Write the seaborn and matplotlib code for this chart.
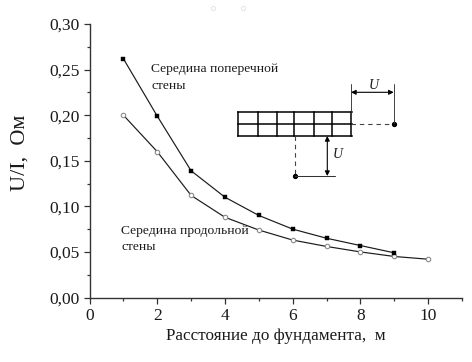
import matplotlib
matplotlib.use("Agg")
import matplotlib.pyplot as plt
import seaborn as sns
import pandas as pd

distance = [1, 2, 3, 4, 5, 6, 7, 8, 9, 10]
transverse = [0.262, 0.199, 0.139, 0.110, 0.090, 0.075, 0.065, 0.057, 0.049]
longitudinal = [0.200, 0.160, 0.112, 0.088, 0.074, 0.063, 0.056, 0.050, 0.045, 0.042]
x_ticks = [0, 2, 4, 6, 8, 10]
y_ticks = [0.00, 0.05, 0.10, 0.15, 0.20, 0.25, 0.30]
y_labels = ["0,00", "0,05", "0,10", "0,15", "0,20", "0,25", "0,30"]

sns.set_theme(style="ticks")
plt.rcParams["font.family"] = ["Liberation Serif", "DejaVu Serif"]

W, H = 472, 362
INK = "#1a1a1a"
fig = plt.figure(figsize=(W / 100, H / 100), dpi=100)
ax = fig.add_axes([89.5 / W, 1 - 297.5 / H, (462 - 89.5) / W, (297.5 - 24) / H])

df_t = pd.DataFrame({"x": distance[:len(transverse)], "y": transverse})
df_l = pd.DataFrame({"x": distance, "y": longitudinal})
sns.lineplot(data=df_l, x="x", y="y", ax=ax, color=INK, lw=0.85, marker="o", ms=3.2,
             mfc="white", mec="#8a8a8a", mew=0.8, errorbar=None)
sns.lineplot(data=df_t, x="x", y="y", ax=ax, color=INK, lw=0.85, marker="s", ms=2.3,
             mfc="black", mec="black", mew=0.3, errorbar=None)

ax.set_xlim(0, 11)
ax.set_ylim(0, 0.30)
ax.set_xticks(x_ticks)
ax.set_yticks(y_ticks)
ax.set_yticklabels(y_labels)
ax.set_xticks([1, 3, 5, 7, 9, 11], minor=True)
ax.set_yticks([0.025, 0.075, 0.125, 0.175, 0.225, 0.275], minor=True)
ax.tick_params(which="major", length=4.3, width=0.9, color="#333333", labelsize=12.5, labelcolor=INK, pad=2.5)
ax.tick_params(axis="x", which="major", pad=3.2)
ax.tick_params(which="minor", length=2.3, width=0.9, color="#333333")
sns.despine(ax=ax)
for s in ["left", "bottom"]:
    ax.spines[s].set_linewidth(1.0)
    ax.spines[s].set_color("#333333")
ax.set_xlabel("")
ax.set_ylabel("")

# overlay in pixel coordinates for the text and the sketch
ov = fig.add_axes([0, 0, 1, 1])
ov.set_xlim(0, W)
ov.set_ylim(H, 0)
ov.axis("off")

ov.text(276, 335.5, "Расстояние до фундамента,  м", fontsize=12.3, color=INK, ha="center", va="center")
ov.text(20, 152.5, "U/I,  Ом", fontsize=16, color=INK, rotation=90, ha="center", va="center")
ov.text(151, 69, "Середина поперечной", fontsize=9.7, color=INK, va="center")
ov.text(151, 86, "стены", fontsize=9.7, color=INK, va="center")
ov.text(121, 231, "Середина продольной", fontsize=9.7, color=INK, va="center")
ov.text(121, 247, "стены", fontsize=9.7, color=INK, va="center")

# building plan
for x in [237.7, 257.7, 276.7, 294, 314.3, 332, 351]:
    ov.plot([x, x], [112.3, 135.7], color="black", lw=1.1, solid_capstyle="projecting")
for y in [112.3, 124.3, 135.7]:
    ov.plot([237.7, 351.5], [y, y], color="black", lw=1.1, solid_capstyle="projecting")

# electrode offsets
ov.plot([351, 393.7], [123.5, 123.5], color="#444444", lw=0.8, ls=(0, (4, 3.5)))
ov.plot([294.7, 294.7], [136, 175.7], color="#444444", lw=0.8, ls=(0, (4, 3.5)))
ov.plot([393.7, 294.7], [123.5, 175.7], ls="none", marker="o", ms=2.8, color="black")
ov.plot([351, 351], [84, 112], color="#333333", lw=0.65)
ov.plot([393.7, 393.7], [84, 123], color="#333333", lw=0.65)
ov.plot([294.7, 335], [176.3, 176.3], color="#333333", lw=0.75)
arrow = dict(arrowstyle="<|-|>", color="black", lw=0.8, mutation_scale=7, shrinkA=0, shrinkB=0)
ov.annotate("", xy=(351, 92.3), xytext=(393.7, 92.3), arrowprops=arrow)
ov.annotate("", xy=(327.3, 136), xytext=(327.3, 176), arrowprops=arrow)
ov.text(374, 85.5, "U", fontsize=10, style="italic", color=INK, ha="center", va="center")
ov.text(337.5, 154, "U", fontsize=10, style="italic", color=INK, ha="center", va="center")

# faint specks at the top of the scan
ov.plot([213, 243], [8, 8], ls="none", marker="o", ms=3, mfc="white", mec="#e4e4e4", mew=0.7)

fig.savefig("out.png", dpi=100)
